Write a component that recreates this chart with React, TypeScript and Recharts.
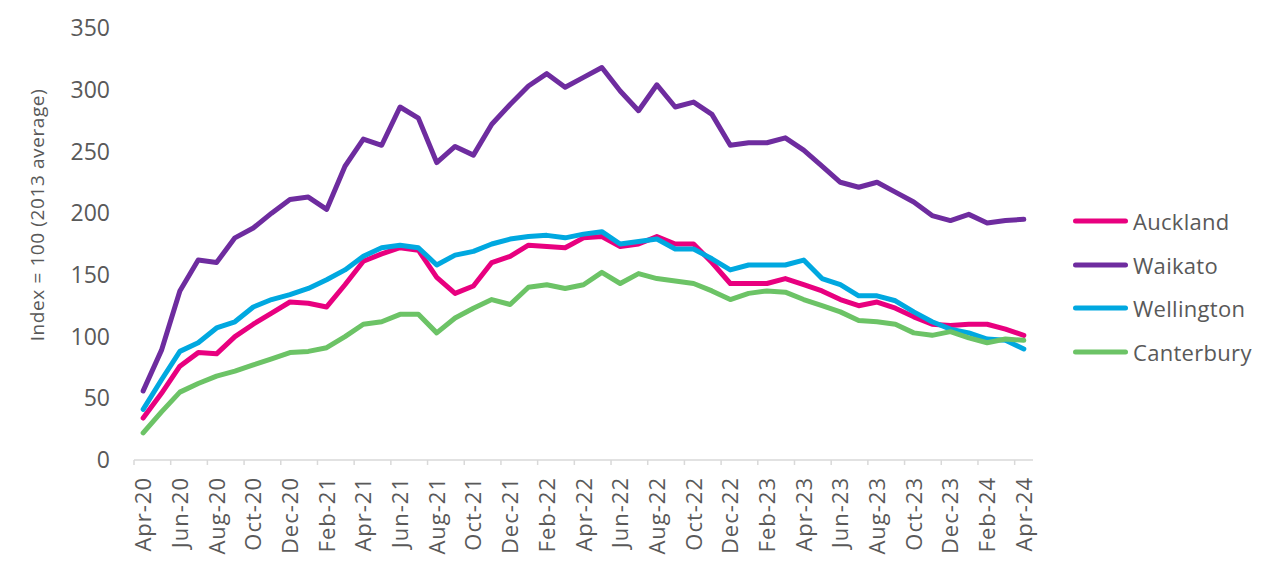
import { LineChart, Line, XAxis, YAxis, Legend } from 'recharts';

const months = [
  'Apr-20', 'May-20', 'Jun-20', 'Jul-20', 'Aug-20', 'Sep-20', 'Oct-20', 'Nov-20', 'Dec-20',
  'Jan-21', 'Feb-21', 'Mar-21', 'Apr-21', 'May-21', 'Jun-21', 'Jul-21', 'Aug-21', 'Sep-21',
  'Oct-21', 'Nov-21', 'Dec-21', 'Jan-22', 'Feb-22', 'Mar-22', 'Apr-22', 'May-22', 'Jun-22',
  'Jul-22', 'Aug-22', 'Sep-22', 'Oct-22', 'Nov-22', 'Dec-22', 'Jan-23', 'Feb-23', 'Mar-23',
  'Apr-23', 'May-23', 'Jun-23', 'Jul-23', 'Aug-23', 'Sep-23', 'Oct-23', 'Nov-23', 'Dec-23',
  'Jan-24', 'Feb-24', 'Mar-24', 'Apr-24',
];

const auckland = [
  34, 54, 76, 87, 86, 100, 110, 119, 128, 127,
  124, 142, 161, 167, 172, 170, 148, 135, 141, 160,
  165, 174, 173, 172, 180, 181, 173, 175, 181, 175,
  175, 160, 143, 143, 143, 147, 142, 137, 130, 125,
  128, 123, 116, 110, 109, 110, 110, 106, 101,
];

const waikato = [
  56, 89, 137, 162, 160, 180, 188, 200, 211, 213,
  203, 238, 260, 255, 286, 277, 241, 254, 247, 272,
  288, 303, 313, 302, 310, 318, 299, 283, 304, 286,
  290, 280, 255, 257, 257, 261, 251, 238, 225, 221,
  225, 217, 209, 198, 194, 199, 192, 194, 195,
];

const wellington = [
  41, 65, 88, 95, 107, 112, 124, 130, 134, 139,
  146, 154, 165, 172, 174, 172, 158, 166, 169, 175,
  179, 181, 182, 180, 183, 185, 175, 177, 179, 171,
  171, 163, 154, 158, 158, 158, 162, 147, 142, 133,
  133, 129, 120, 112, 106, 103, 98, 97, 90,
];

const canterbury = [
  22, 39, 55, 62, 68, 72, 77, 82, 87, 88,
  91, 100, 110, 112, 118, 118, 103, 115, 123, 130,
  126, 140, 142, 139, 142, 152, 143, 151, 147, 145,
  143, 137, 130, 135, 137, 136, 130, 125, 120, 113,
  112, 110, 103, 101, 104, 99, 95, 98, 97,
];

const yTicks = [0, 50, 100, 150, 200, 250, 300, 350];

const series = [
  { key: 'Auckland', color: '#e8007f' },
  { key: 'Waikato', color: '#6e2c9f' },
  { key: 'Wellington', color: '#00a8e0' },
  { key: 'Canterbury', color: '#6cc366' },
];

const data = months.map((m, i) => ({
  month: m,
  Auckland: auckland[i],
  Waikato: waikato[i],
  Wellington: wellington[i],
  Canterbury: canterbury[i],
}));

const FONT = '"Open Sans", sans-serif';
const TEXT = '#595959';
const PLOT_LEFT = 134;
const PLOT_RIGHT = 1033;
const HALF = (PLOT_RIGHT - PLOT_LEFT) / months.length / 2;

const MonthTick = (props: any) => {
  const { x, y, payload } = props;
  return (
    <g>
      <line x1={x - HALF} x2={x - HALF} y1={y} y2={y + 5} stroke="#d9d9d9" strokeWidth={1.5} />
      <text
        transform={`translate(${x + 8},${y + 17}) rotate(-90)`}
        textAnchor="end"
        fontSize={22}
        letterSpacing={1}
        fill={TEXT}
        fontFamily={FONT}
      >
        {payload.value}
      </text>
    </g>
  );
};

const YLabel = () => (
  <text
    x={44}
    y={215}
    transform="rotate(-90 44 215)"
    textAnchor="middle"
    fontSize={19}
    letterSpacing={0.6}
    fill={TEXT}
    fontFamily={FONT}
  >
    Index = 100 (2013 average)
  </text>
);

// legend drawn in series order (recharts 3 sorts payload by name otherwise)
const renderLegend = () => (
  <div style={{ fontFamily: FONT }}>
    {series.map((s) => (
      <div key={s.key} style={{ display: 'flex', alignItems: 'center', height: 43.7 }}>
        <svg width={60} height={10}>
          <line x1={5.5} x2={55.5} y1={5} y2={5} stroke={s.color} strokeWidth={5} strokeLinecap="round" />
        </svg>
        <span style={{ marginLeft: 3, fontSize: 22, letterSpacing: 0.3, color: TEXT }}>{s.key}</span>
      </div>
    ))}
  </div>
);

export default function App() {
  return (
    <div style={{ position: 'absolute', left: 0, top: 0, fontFamily: FONT, background: '#fff' }}>
      <LineChart width={1280} height={575} data={data} margin={{ top: 28, right: 1280 - PLOT_RIGHT, bottom: 0, left: 0 }}>
        <XAxis
          dataKey="month"
          interval={1}
          height={115}
          padding={{ left: HALF, right: HALF }}
          scale="point"
          axisLine={{ stroke: '#d9d9d9', strokeWidth: 1.5 }}
          tickLine={false}
          tickSize={0}
          tickMargin={0}
          tick={<MonthTick />}
        />
        <YAxis
          type="number"
          domain={[0, 350]}
          ticks={yTicks}
          width={PLOT_LEFT}
          axisLine={false}
          tickLine={false}
          tickSize={0}
          tickMargin={24}
          tick={{ fontSize: 23, fill: TEXT, fontFamily: FONT }}
          label={<YLabel />}
        />
        <Legend
          layout="vertical"
          align="center"
          verticalAlign="middle"
          content={renderLegend}
          wrapperStyle={{ left: 1070, top: 199, width: 200 }}
        />
        {series.map((s) => (
          <Line
            key={s.key}
            type="linear"
            dataKey={s.key}
            stroke={s.color}
            strokeWidth={5}
            strokeLinejoin="round"
            strokeLinecap="round"
            dot={false}
            activeDot={false}
            isAnimationActive={false}
          />
        ))}
      </LineChart>
    </div>
  );
}
